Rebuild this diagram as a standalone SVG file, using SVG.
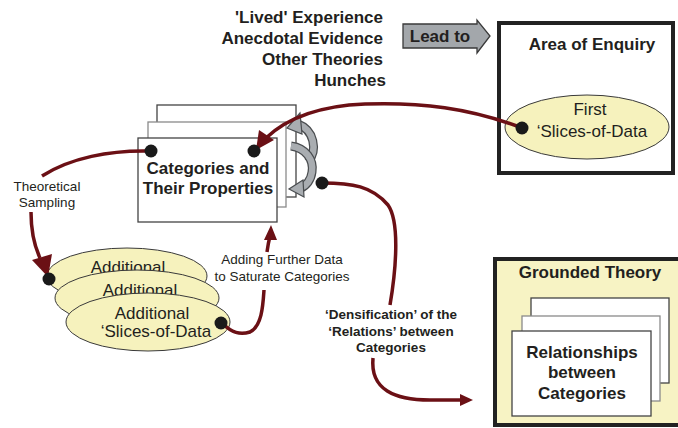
<svg xmlns="http://www.w3.org/2000/svg" width="678" height="428" viewBox="0 0 678 428">
<defs>
<style>
.b{font-family:"Liberation Sans",Arial,sans-serif;font-weight:bold;font-size:17px;fill:#231f20}
.r{font-family:"Liberation Sans",Arial,sans-serif;font-size:17px;fill:#231f20}
.s{font-family:"Liberation Sans",Arial,sans-serif;font-size:13.5px;fill:#231f20}
.sb{font-family:"Liberation Sans",Arial,sans-serif;font-size:13.5px;font-weight:bold;fill:#231f20}
.card{fill:#fff;stroke:#444;stroke-width:1.3}
.card2{fill:#fff;stroke:#8a8a8a;stroke-width:1.3}
.ell{fill:#f6f2bd;stroke:#3a3a3a;stroke-width:1}
.con{fill:none;stroke:#6b1015;stroke-width:3.5}
.dot{fill:#1a1a1a}
.head{fill:#6b1015}
.g1{fill:none;stroke:#4a4d50;stroke-width:9}
.g2{fill:none;stroke:#a9adb1;stroke-width:6.5}
.gh{fill:#a9adb1;stroke:#4a4d50;stroke-width:1.2}
</style>
</defs>

<g id="sources">
<text class="b" text-anchor="end" x="383" y="23">'Lived' Experience</text>
<text class="b" text-anchor="end" x="383" y="44">Anecdotal Evidence</text>
<text class="b" text-anchor="end" x="383" y="65">Other Theories</text>
<text class="b" text-anchor="end" x="386" y="86">Hunches</text>
</g>

<g id="lead-to">
<path d="M403,24 H477 V20 L490,36 L477,53 V48 H403 Z" fill="#a3a7ab" stroke="#3a3a3a" stroke-width="1.3"/>
<text class="b" text-anchor="middle" x="440" y="42">Lead to</text>
</g>

<g id="area-of-enquiry">
<rect x="499" y="23" width="174" height="150" fill="#fff" stroke="#222" stroke-width="4"/>
<text class="b" text-anchor="middle" x="592" y="50">Area of Enquiry</text>
<ellipse class="ell" cx="587" cy="127" rx="82" ry="32"/>
<text class="r" text-anchor="middle" x="590" y="115">First</text>
<text class="r" text-anchor="middle" x="592" y="137">‘Slices-of-Data</text>
</g>

<g id="categories">
<rect class="card" x="157" y="105" width="139" height="92"/>
<rect class="card2" x="148" y="122" width="138" height="85"/>
<rect class="card" x="138" y="138" width="139" height="84"/>
<text class="b" text-anchor="middle" x="208" y="174">Categories and</text>
<text class="b" text-anchor="middle" x="208" y="194">Their Properties</text>
</g>

<g id="rotation-arrows">
<path class="g1" d="M298,124 C314,130 318,150 308,162"/>
<path class="g2" d="M298,124 C314,130 318,150 308,162"/>
<polygon class="gh" points="300,113 287,128 302,134"/>
<path class="g1" d="M291,146 C306,148 314,160 312,172 C311,180 306,186 301,188"/>
<path class="g2" d="M291,146 C306,148 314,160 312,172 C311,180 306,186 301,188" stroke="#8e9297"/>
<polygon class="gh" points="303,180 289,189 304,197"/>
</g>

<g id="additional">
<ellipse class="ell" cx="127" cy="276" rx="80" ry="28"/>
<text class="r" text-anchor="middle" x="128" y="273">Additional</text>
<ellipse class="ell" cx="137" cy="298" rx="82" ry="28"/>
<text class="r" text-anchor="middle" x="140" y="296">Additional</text>
<ellipse class="ell" cx="148" cy="322" rx="82" ry="29"/>
<text class="r" text-anchor="middle" x="152" y="319">Additional</text>
<text class="r" text-anchor="middle" x="156" y="337">‘Slices-of-Data</text>
</g>

<g id="grounded-theory">
<rect x="495" y="259" width="190" height="166" fill="#f7f3c4" stroke="#222" stroke-width="4"/>
<text class="b" text-anchor="middle" x="590" y="278">Grounded Theory</text>
<rect class="card" x="531" y="298" width="138" height="85"/>
<rect class="card2" x="522" y="316" width="138" height="85"/>
<rect class="card" x="512" y="331" width="139" height="85"/>
<text class="b" text-anchor="middle" x="582" y="358">Relationships</text>
<text class="b" text-anchor="middle" x="582" y="378">between</text>
<text class="b" text-anchor="middle" x="582" y="399">Categories</text>
</g>

<g id="connectors">
<path class="con" d="M522,128 C470,108 420,102 365,104 C315,106 285,120 266,138"/>
<polygon class="head" points="256,150 259,130 274,140"/>
<path class="con" d="M150,151 C110,150 70,158 42,176"/>
<path class="con" d="M31,212 C31,230 34,245 40,258"/>
<polygon class="head" points="48,277 32,260 52,254"/>
<path class="con" d="M222,323 C232,333 240,335 250,332 C262,326 263,305 264,290"/>
<path class="con" d="M267,252 C268,245 269,240 270,236"/>
<polygon class="head" points="271,225 264,240 277,240"/>
<path class="con" d="M322,183 C352,183 372,186 388,205 C400,222 396,270 390,305"/>
<path class="con" d="M373,358 C370,390 395,400 430,400 L462,400"/>
<polygon class="head" points="473,400 460,394 460,406"/>
<circle class="dot" cx="522" cy="128" r="6.5"/>
<circle class="dot" cx="151" cy="151" r="6.5"/>
<circle class="dot" cx="254" cy="151" r="6.5"/>
<circle class="dot" cx="49" cy="279" r="6.5"/>
<circle class="dot" cx="221" cy="323" r="6.5"/>
<circle class="dot" cx="322" cy="183" r="6.5"/>
</g>

<g id="labels">
<text class="s" text-anchor="middle" x="47" y="191">Theoretical</text>
<text class="s" text-anchor="middle" x="47" y="207">Sampling</text>
<text class="s" text-anchor="middle" x="282" y="264">Adding Further Data</text>
<text class="s" text-anchor="middle" x="282" y="281">to Saturate Categories</text>
<text class="sb" text-anchor="middle" x="391" y="319">‘Densification’ of the</text>
<text class="sb" text-anchor="middle" x="391" y="336">‘Relations’ between</text>
<text class="sb" text-anchor="middle" x="391" y="352">Categories</text>
</g>
</svg>
